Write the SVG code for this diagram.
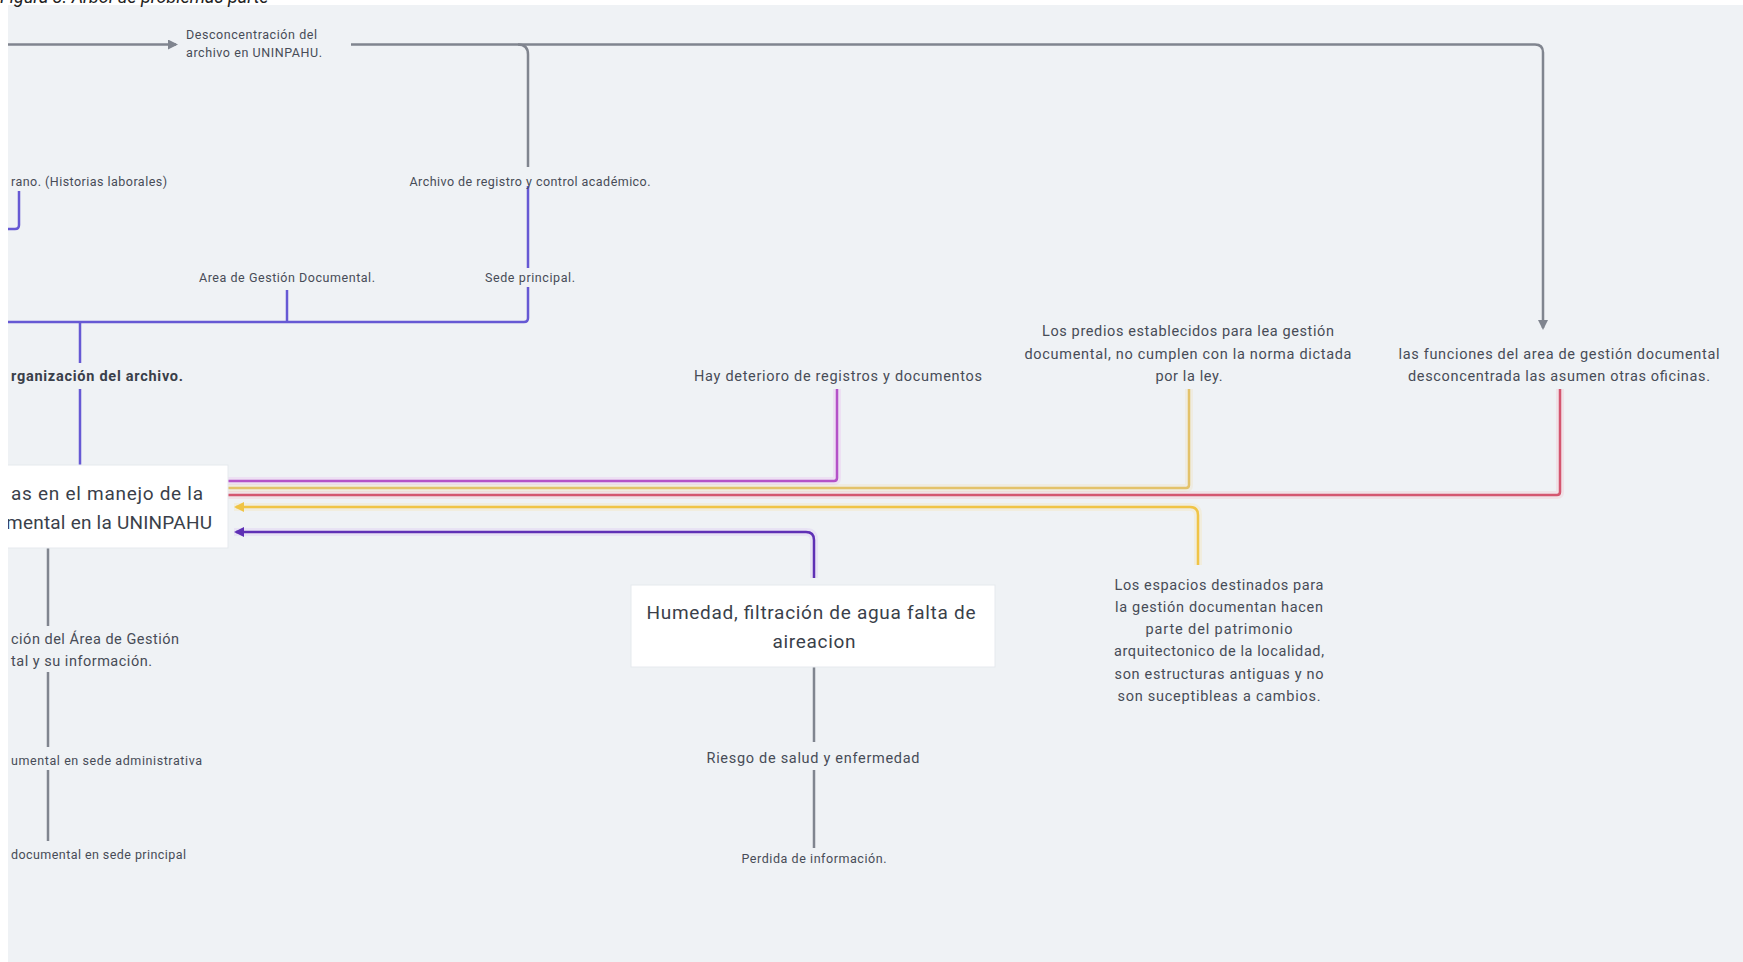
<svg xmlns="http://www.w3.org/2000/svg" width="1743" height="962" viewBox="0 0 1743 962">
<defs>
<style>
text{font-family:Roboto,"Liberation Sans",sans-serif;fill:#474c57}
.s{font-size:12.5px}
.m{font-size:14.5px}
.b{font-size:19px;fill:#3a3f4a}
.c{text-anchor:middle}
.e{text-anchor:end}
.g{fill:none;stroke:#80858f;stroke-width:2.5}
.p{fill:none;stroke:#6659d4;stroke-width:2.5}
.h{fill:none;stroke-width:8;opacity:0.18}
.l{fill:none;stroke-width:2.5}
</style>
<marker id="ag" viewBox="0 0 10 10" refX="8" refY="5" markerWidth="4" markerHeight="4" orient="auto"><path d="M0,0L10,5L0,10z" fill="#80858f"/></marker>
<marker id="ay" viewBox="0 0 10 10" refX="8" refY="5" markerWidth="4" markerHeight="4" orient="auto"><path d="M0,0L10,5L0,10z" fill="#f0c446"/></marker>
<marker id="ap" viewBox="0 0 10 10" refX="8" refY="5" markerWidth="4" markerHeight="4" orient="auto"><path d="M0,0L10,5L0,10z" fill="#5f30b5"/></marker>
</defs>
<rect width="1743" height="962" fill="#eff2f5"/>

<g id="connectors">
<path class="g" d="M8 44.5H176" marker-end="url(#ag)"/>
<path class="g" d="M351 44.5H1535Q1543 44.5 1543 52.5V328" marker-end="url(#ag)"/>
<path class="g" d="M518 44.5Q528 44.5 528 54.5V167"/>
<path class="p" d="M528 186V268M528 287V318Q528 322 524 322H8"/>
<path class="p" d="M287 290V322"/>
<path class="p" d="M80 322V363M80 389V465"/>
<path class="p" d="M19 191V225Q19 229 15 229H8"/>
<path class="g" d="M48 548V626M48 672V747M48 770V841"/>
<path class="g" d="M814 667V742M814 770V848"/>
<path class="h" stroke="#e58ff0" d="M228 481H834Q837 481 837 478V389"/>
<path class="l" stroke="#b452c8" d="M228 481H834Q837 481 837 478V389"/>
<path class="h" stroke="#f1d48e" d="M228 488H1186Q1189 488 1189 485V389"/>
<path class="l" stroke="#e3c26a" d="M228 488H1186Q1189 488 1189 485V389"/>
<path class="h" stroke="#f59aab" d="M228 495H1557Q1560 495 1560 492V389"/>
<path class="l" stroke="#d4566f" d="M228 495H1557Q1560 495 1560 492V389"/>
<path class="h" stroke="#f7d77a" d="M1198 565V515Q1198 507 1190 507H234"/>
<path class="l" stroke="#f0c446" d="M1198 565V515Q1198 507 1190 507H236" marker-end="url(#ay)"/>
<path class="h" stroke="#c9a0f5" d="M814 578V540Q814 532 806 532H234"/>
<path class="l" stroke="#5f30b5" d="M814 578V540Q814 532 806 532H236" marker-end="url(#ap)"/>
</g>

<g id="n-desconcentracion"><text class="s" x="186" y="39" textLength="131">Desconcentración del</text><text class="s" x="186" y="56.5" textLength="136">archivo en UNINPAHU.</text></g>
<g id="n-historias"><text class="s" x="11" y="185.5" textLength="156">rano. (Historias laborales)</text></g>
<g id="n-archivo-registro"><text class="s c" x="530" y="185.5" textLength="241">Archivo de registro y control académico.</text></g>
<g id="n-area-gestion"><text class="s c" x="287" y="281.5" textLength="176">Area de Gestión Documental.</text></g>
<g id="n-sede-principal"><text class="s c" x="530" y="281.5" textLength="90">Sede principal.</text></g>
<g id="n-organizacion"><text class="m" x="11" y="381" textLength="172" font-weight="bold" style="fill:#3a3f4a">rganización del archivo.</text></g>

<g id="n-main">
<rect x="-20" y="465" width="248" height="83" fill="#ffffff" stroke="#e6e9ee"/>
<text class="b" x="11" y="500" textLength="192">as en el manejo de la</text>
<text class="b e" x="212" y="529" textLength="206">mental en la UNINPAHU</text>
</g>

<g id="n-ubicacion"><text class="m" x="11" y="644" textLength="168">ción del Área de Gestión</text><text class="m" x="11" y="666" textLength="141">tal y su información.</text></g>
<g id="n-sede-admin"><text class="s" x="11" y="764.5" textLength="191">umental en sede administrativa</text></g>
<g id="n-sede-princ-doc"><text class="s" x="11" y="858.5" textLength="175">documental en sede principal</text></g>

<g id="n-deterioro"><text class="m c" x="838" y="381" textLength="288">Hay deterioro de registros y documentos</text></g>
<g id="n-predios">
<text class="m c" x="1188" y="336" textLength="292">Los predios establecidos para lea gestión</text>
<text class="m c" x="1188" y="358.5" textLength="327">documental, no cumplen con la norma dictada</text>
<text class="m c" x="1189" y="381" textLength="67">por la ley.</text>
</g>
<g id="n-funciones">
<text class="m c" x="1559" y="358.5" textLength="321">las funciones del area de gestión documental</text>
<text class="m c" x="1559" y="381" textLength="302">desconcentrada las asumen otras oficinas.</text>
</g>
<g id="n-espacios">
<text class="m c" x="1219" y="590" textLength="209">Los espacios destinados para</text>
<text class="m c" x="1219" y="612" textLength="208">la gestión documentan hacen</text>
<text class="m c" x="1219" y="634" textLength="147">parte del patrimonio</text>
<text class="m c" x="1219" y="656" textLength="210">arquitectonico de la localidad,</text>
<text class="m c" x="1219" y="679" textLength="209">son estructuras antiguas y no</text>
<text class="m c" x="1219" y="701" textLength="203">son suceptibleas a cambios.</text>
</g>
<g id="n-humedad">
<rect x="631" y="585" width="364" height="82" fill="#ffffff" stroke="#e6e9ee"/>
<text class="b c" x="811" y="619" textLength="329">Humedad, filtración de agua falta de</text>
<text class="b c" x="814" y="648" textLength="83">aireacion</text>
</g>
<g id="n-riesgo"><text class="m c" x="813" y="763" textLength="213">Riesgo de salud y enfermedad</text></g>
<g id="n-perdida"><text class="s c" x="814" y="862.5" textLength="145">Perdida de información.</text></g>

<rect x="0" y="0" width="1743" height="5" fill="#ffffff"/>
<rect x="0" y="0" width="8" height="962" fill="#ffffff"/>
<text x="0" y="2.5" font-size="18" font-style="italic" style="fill:#222">Figura 3. Árbol de problemas parte</text>
</svg>
